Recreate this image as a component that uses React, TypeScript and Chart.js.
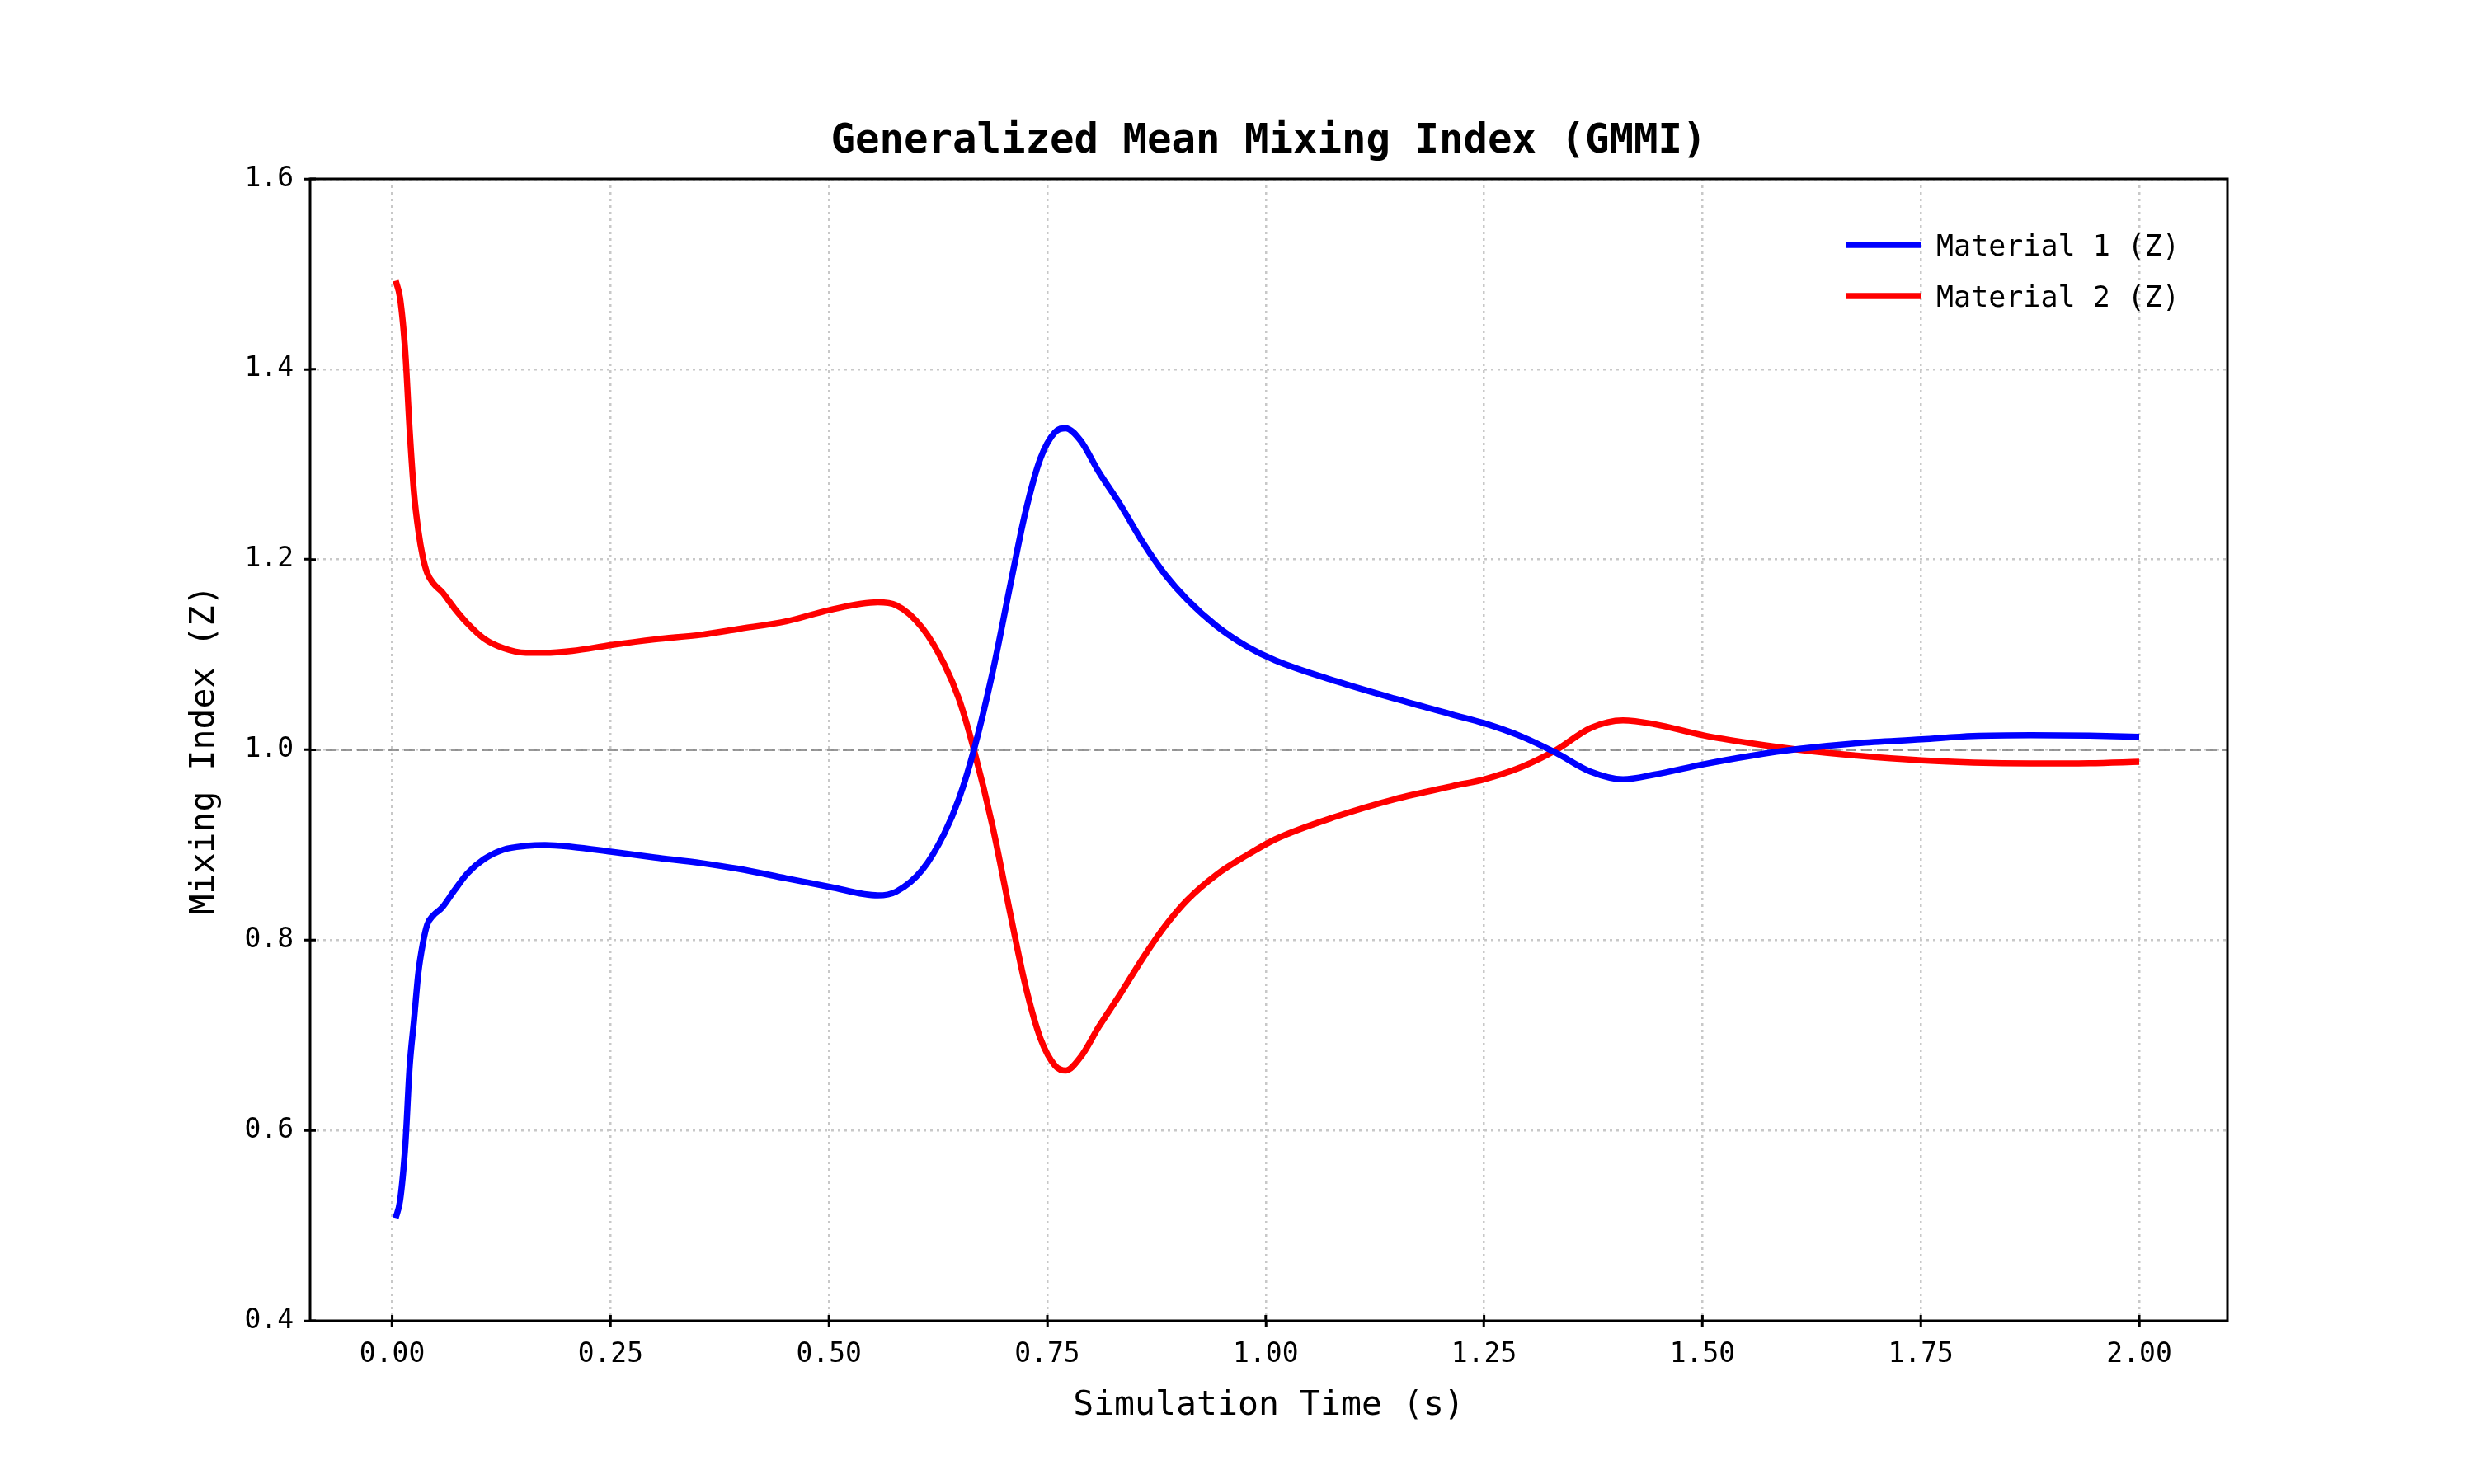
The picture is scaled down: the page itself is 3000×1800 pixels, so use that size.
import { useEffect, useRef } from "react";
import { Chart, registerables, type ChartConfiguration, type Plugin } from "chart.js";

Chart.register(...registerables);

// values
const TIME = [
  0.004, 0.009, 0.015, 0.02, 0.025, 0.03, 0.035, 0.04, 0.047, 0.057,
  0.071, 0.086, 0.105, 0.127, 0.153, 0.175, 0.206, 0.25, 0.3, 0.354,
  0.396, 0.451, 0.501, 0.556, 0.577, 0.607, 0.632, 0.649, 0.666, 0.687,
  0.708, 0.725, 0.742, 0.759, 0.771, 0.788, 0.809, 0.834, 0.86, 0.885,
  0.91, 0.944, 0.978, 1.011, 1.081, 1.147, 1.214, 1.25, 1.293, 1.332,
  1.372, 1.409, 1.445, 1.502, 1.557, 1.611, 1.677, 1.751, 1.81, 1.876,
  1.943, 2.0,
];

const MATERIAL_1 = [
  0.508, 0.526, 0.584, 0.667, 0.716, 0.766, 0.796, 0.816, 0.826, 0.834,
  0.852, 0.87, 0.885, 0.895, 0.899, 0.9, 0.898, 0.893, 0.887, 0.881,
  0.875, 0.865, 0.856, 0.847, 0.851, 0.874, 0.912, 0.949, 1.0, 1.08,
  1.175, 1.25, 1.306, 1.334, 1.338, 1.325, 1.292, 1.257, 1.217, 1.184,
  1.158, 1.13, 1.109, 1.094, 1.072, 1.054, 1.037, 1.028, 1.014, 0.997,
  0.977, 0.969, 0.974, 0.985, 0.994, 1.001, 1.007, 1.011, 1.0145, 1.0154,
  1.015, 1.0137,
];

const MATERIAL_2 = [
  1.493, 1.475, 1.418, 1.336, 1.27, 1.23, 1.203, 1.186, 1.175, 1.166,
  1.149, 1.133, 1.117, 1.107, 1.102, 1.102, 1.104, 1.11, 1.116, 1.121,
  1.127, 1.135, 1.147, 1.155, 1.152, 1.128, 1.09, 1.053, 1.0, 0.921,
  0.826, 0.752, 0.697, 0.668, 0.663, 0.677, 0.709, 0.744, 0.782, 0.815,
  0.842, 0.869, 0.889, 0.906, 0.93, 0.948, 0.962, 0.969, 0.982, 0.9995,
  1.023, 1.031, 1.027, 1.015, 1.0067, 1.0, 0.994, 0.989, 0.9866, 0.9857,
  0.986, 0.9874,
];

const SERIES_LABELS = ["Material 1 (Z)", "Material 2 (Z)"];
const X_TICKS = [0, 0.25, 0.5, 0.75, 1.0, 1.25, 1.5, 1.75, 2.0];
const Y_TICKS = [0.4, 0.6, 0.8, 1.0, 1.2, 1.4, 1.6];
const REFERENCE_LEVEL = 1.0;

const TITLE = "Generalized Mean Mixing Index (GMMI)";
const X_TITLE = "Simulation Time (s)";
const Y_TITLE = "Mixing Index (Z)";

const FONT = "'DejaVu Sans Mono', monospace";
const COLORS = ["#0000ff", "#ff0000"];
const GRID_COLOR = "#c8c8c8";

const decorPlugin: Plugin<"line"> = {
  id: "decor",
  beforeDatasetsDraw(chart) {
    const { ctx, chartArea } = chart;
    const y = chart.scales.y.getPixelForValue(REFERENCE_LEVEL);
    ctx.save();
    ctx.strokeStyle = "rgba(128,128,128,0.8)";
    ctx.lineWidth = 3;
    ctx.setLineDash([13, 6]);
    ctx.beginPath();
    ctx.moveTo(chartArea.left, y);
    ctx.lineTo(chartArea.right, y);
    ctx.stroke();
    ctx.restore();
  },
  afterDraw(chart) {
    const { ctx, chartArea } = chart;
    const { left, right, top, bottom } = chartArea;
    ctx.save();
    ctx.setLineDash([]);

    // spines
    ctx.strokeStyle = "#000";
    ctx.lineWidth = 3;
    ctx.strokeRect(left, top, right - left, bottom - top);

    // inner half of the ticks
    ctx.beginPath();
    for (const v of X_TICKS) {
      const x = chart.scales.x.getPixelForValue(v);
      ctx.moveTo(x, bottom);
      ctx.lineTo(x, bottom - 7);
    }
    for (const v of Y_TICKS) {
      const y = chart.scales.y.getPixelForValue(v);
      ctx.moveTo(left, y);
      ctx.lineTo(left + 7, y);
    }
    ctx.stroke();

    // legend
    ctx.font = `35px ${FONT}`;
    ctx.textAlign = "left";
    ctx.textBaseline = "alphabetic";
    chart.data.datasets.forEach((ds, i) => {
      const y = top + 80 + i * 62;
      ctx.strokeStyle = COLORS[i];
      ctx.lineWidth = 7.5;
      ctx.beginPath();
      ctx.moveTo(right - 462, y);
      ctx.lineTo(right - 371, y);
      ctx.stroke();
      ctx.fillStyle = "#000";
      ctx.fillText(String(ds.label), right - 353, y + 12.5);
    });
    ctx.restore();
  },
};

export default function App() {
  const canvasRef = useRef<HTMLCanvasElement>(null);
  const chartRef = useRef<Chart<"line"> | null>(null);

  useEffect(() => {
    if (!canvasRef.current) return;

    if (chartRef.current) {
      chartRef.current.destroy();
    }

    const series = [MATERIAL_1, MATERIAL_2];

    const config: ChartConfiguration<"line"> = {
      type: "line",
      data: {
        datasets: series.map((values, i) => ({
          label: SERIES_LABELS[i],
          data: TIME.map((t, j) => ({ x: t, y: values[j] })),
          borderColor: COLORS[i],
          backgroundColor: COLORS[i],
          borderWidth: 7.5,
          pointRadius: 0,
          cubicInterpolationMode: "monotone" as const,
          borderJoinStyle: "round" as const,
          fill: false,
        })),
      },
      options: {
        responsive: false,
        devicePixelRatio: 1,
        animation: false,
        layout: { padding: { left: 77, right: 299, top: 0, bottom: 0 } },
        plugins: {
          legend: { display: false },
          tooltip: { enabled: false },
          title: {
            display: true,
            fullSize: false,
            text: TITLE,
            color: "#000",
            font: { family: FONT, size: 49, weight: "bold", lineHeight: 1.2 },
            padding: { top: 142.6, bottom: 15.6 },
          },
        },
        scales: {
          x: {
            type: "linear",
            min: -0.094,
            max: 2.101,
            afterBuildTicks: (scale) => {
              scale.ticks = X_TICKS.map((value) => ({ value }));
            },
            afterFit: (scale) => {
              scale.height = 198;
            },
            ticks: {
              color: "#000",
              font: { family: FONT, size: 33 },
              padding: 15,
              maxRotation: 0,
              callback: (value) => Number(value).toFixed(2),
            },
            grid: {
              color: GRID_COLOR,
              lineWidth: 2.5,
              drawTicks: true,
              tickLength: 7,
              tickColor: "#000",
              tickWidth: 3,
            },
            border: { display: false, dash: [3, 5] },
            title: {
              display: true,
              text: X_TITLE,
              color: "#000",
              font: { family: FONT, size: 41.5, lineHeight: 1.2 },
              padding: { top: 0, bottom: 70 },
            },
          },
          y: {
            type: "linear",
            min: 0.4,
            max: 1.6,
            afterBuildTicks: (scale) => {
              scale.ticks = Y_TICKS.map((value) => ({ value }));
            },
            afterFit: (scale) => {
              scale.width = 299;
            },
            ticks: {
              color: "#000",
              font: { family: FONT, size: 33 },
              padding: 13,
              callback: (value) => Number(value).toFixed(1),
            },
            grid: {
              color: GRID_COLOR,
              lineWidth: 2.5,
              drawTicks: true,
              tickLength: 7,
              tickColor: "#000",
              tickWidth: 3,
            },
            border: { display: false, dash: [3, 5] },
            title: {
              display: true,
              text: Y_TITLE,
              color: "#000",
              font: { family: FONT, size: 41.5, lineHeight: 1.2 },
              padding: { top: 146.1, bottom: 0 },
            },
          },
        },
      },
      plugins: [decorPlugin],
    };

    chartRef.current = new Chart(canvasRef.current, config);

    return () => {
      chartRef.current?.destroy();
      chartRef.current = null;
    };
  }, []);

  return (
    <div style={{ position: "absolute", left: 0, top: 0, width: 3000, height: 1800, background: "#fff" }}>
      <canvas ref={canvasRef} width={3000} height={1800} />
    </div>
  );
}
